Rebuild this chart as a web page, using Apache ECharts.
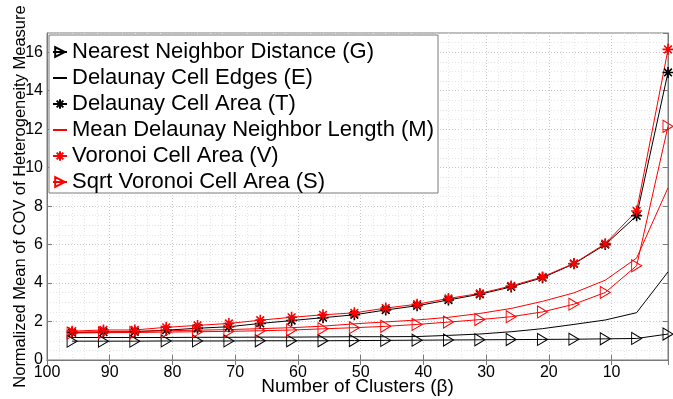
<!DOCTYPE html>
<html>
<head>
<meta charset="utf-8">
<script src="https://cdn.jsdelivr.net/npm/echarts@6/dist/echarts.min.js"></script>
<style>
  html, body { margin: 0; padding: 0; background: #fff; }
  #chart { width: 673px; height: 399px; }
</style>
</head>
<body>
<div id="chart"></div>
<script>
// number of clusters (x), plotted right to left
let clusters = [96, 91, 86, 81, 76, 71, 66, 61, 56, 51, 46, 41, 36, 31, 26, 21, 16, 11, 6, 1]

let nearestG = [0.98, 0.98, 0.98, 0.99, 0.99, 0.99, 1.0, 1.0, 1.0, 1.01, 1.02, 1.03, 1.04, 1.05, 1.06, 1.07, 1.08, 1.1, 1.12, 1.35]
let edgesE = [1.17, 1.17, 1.17, 1.17, 1.18, 1.18, 1.19, 1.19, 1.2, 1.21, 1.21, 1.22, 1.28, 1.35, 1.47, 1.63, 1.85, 2.08, 2.46, 4.58]
let delAreaT = [1.42, 1.45, 1.47, 1.55, 1.65, 1.73, 1.9, 2.05, 2.2, 2.35, 2.6, 2.82, 3.12, 3.42, 3.8, 4.28, 5.0, 6.0, 7.5, 14.95]
let meanLenM = [1.45, 1.47, 1.49, 1.52, 1.55, 1.58, 1.63, 1.68, 1.76, 1.88, 1.98, 2.08, 2.22, 2.42, 2.68, 3.05, 3.49, 4.15, 5.3, 8.95]
let vorAreaV = [1.5, 1.56, 1.56, 1.7, 1.8, 1.9, 2.07, 2.22, 2.35, 2.45, 2.7, 2.9, 3.2, 3.46, 3.85, 4.32, 5.02, 6.05, 7.75, 16.15]
let sqrtVorS = [1.4, 1.42, 1.43, 1.45, 1.47, 1.49, 1.52, 1.56, 1.62, 1.68, 1.75, 1.85, 1.97, 2.1, 2.25, 2.5, 2.9, 3.51, 4.9, 12.15]

let names = [
    'Nearest Neighbor Distance (G)',
    'Delaunay Cell Edges (E)',
    'Delaunay Cell Area (T)',
    'Mean Delaunay Neighbor Length (M)',
    'Voronoi Cell Area (V)',
    'Sqrt Voronoi Cell Area (S)'
]

let font = 'Liberation Sans, Arial, Helvetica, sans-serif'
let triangle = 'path://M0,0L10,5L0,10Z'
let asterisk = 'path://M5,0L5,10M0,5L10,5M1.5,1.5L8.5,8.5M1.5,8.5L8.5,1.5'

function pairs(vals) {
    return clusters.map((c, i) => [c, vals[i]])
}

function makeSeries(name, vals, color, symbol) {
    let s = {
        name: name,
        type: 'line',
        data: pairs(vals),
        lineStyle: { color: color, width: 1 },
        itemStyle: { color: color },
        emphasis: { disabled: true },
        animation: false
    }
    if (symbol === 'tri') {
        s.symbol = triangle
        s.symbolSize = [10, 12]
        s.itemStyle = { color: 'rgba(0,0,0,0)', borderColor: color, borderWidth: 1 }
    } else if (symbol === 'ast') {
        s.symbol = asterisk
        s.symbolSize = 11
        s.itemStyle = { color: color, borderColor: color, borderWidth: 1.6 }
    } else {
        // plain line, legend shows only the line
        s.symbol = 'none'
        s.showSymbol = false
        s.legendIcon = 'path://M0,5L10,5'
        s.itemStyle = { color: 'rgba(0,0,0,0)' }
    }
    return s
}

let gridLine = { show: true, lineStyle: { color: '#c8c8c8', type: [1, 2], width: 1 } }
let minorLine = { show: true, lineStyle: { color: '#e6e6e6', type: [1, 2], width: 1 } }

let option = {
    backgroundColor: '#fff',
    grid: {
        left: 47, right: 5, top: 33, bottom: 39,
        outerBoundsMode: 'none',
        containLabel: false,
        show: true, borderColor: '#7a7a7a', borderWidth: 1
    },
    // legend frame (drawn behind the legend items, above the lines)
    graphic: [{
        type: 'rect',
        z: 3,
        shape: { x: 49, y: 35, width: 389, height: 158 },
        style: { fill: '#fff', stroke: '#7a7a7a', lineWidth: 1 }
    }],
    legend: {
        orient: 'vertical',
        left: 48,
        top: 38,
        padding: [3, 3, 1, 4],
        itemGap: 4,
        itemWidth: 14,
        itemHeight: 12,
        textStyle: { fontFamily: font, fontSize: 22, color: '#000', lineHeight: 22 },
        data: names
    },
    xAxis: [{
        type: 'value',
        inverse: true,
        min: 1,
        max: 100,
        splitNumber: 10,
        name: 'Number of Clusters (β)',
        nameLocation: 'middle',
        nameGap: 17,
        nameMoveOverlap: false,
        nameTextStyle: { fontFamily: font, fontSize: 19, color: '#000' },
        axisLine: { show: true, lineStyle: { color: '#7a7a7a' } },
        axisTick: { show: true, inside: true, length: 5, lineStyle: { color: '#7a7a7a' } },
        axisLabel: {
            showMinLabel: false, fontFamily: font, fontSize: 16, color: '#000', margin: 5,
            alignMaxLabel: 'center', alignMinLabel: 'center'
        },
        splitLine: gridLine,
        minorTick: { show: false, splitNumber: 5 },
        minorSplitLine: minorLine
    }, {
        type: 'value',
        position: 'top',
        inverse: true,
        min: 1,
        max: 100,
        splitNumber: 10,
        axisLine: { show: true, lineStyle: { color: '#7a7a7a' } },
        axisTick: { show: true, inside: true, length: 5, lineStyle: { color: '#7a7a7a' } },
        axisLabel: { show: false },
        splitLine: { show: false }
    }],
    yAxis: [{
        type: 'value',
        min: 0,
        max: 17,
        interval: 2,
        name: 'Normalized Mean of COV of Heterogeneity Measure',
        nameLocation: 'middle',
        nameGap: 18,
        nameMoveOverlap: false,
        nameTextStyle: { fontFamily: font, fontSize: 16.5, color: '#000' },
        axisLine: { show: true, lineStyle: { color: '#7a7a7a' } },
        axisTick: { show: true, inside: true, length: 5, lineStyle: { color: '#7a7a7a' } },
        axisLabel: { showMaxLabel: false, fontFamily: font, fontSize: 16, color: '#000', margin: 4 },
        splitLine: gridLine,
        minorTick: { show: false, splitNumber: 4 },
        minorSplitLine: minorLine
    }, {
        type: 'value',
        position: 'right',
        min: 0,
        max: 17,
        interval: 2,
        axisLine: { show: true, lineStyle: { color: '#7a7a7a' } },
        axisTick: { show: true, inside: true, length: 5, lineStyle: { color: '#7a7a7a' } },
        axisLabel: { show: false },
        splitLine: { show: false }
    }],
    series: [
        makeSeries(names[0], nearestG, '#000', 'tri'),
        makeSeries(names[1], edgesE, '#000', 'none'),
        makeSeries(names[2], delAreaT, '#000', 'ast'),
        makeSeries(names[3], meanLenM, '#f00', 'none'),
        makeSeries(names[4], vorAreaV, '#f00', 'ast'),
        makeSeries(names[5], sqrtVorS, '#f00', 'tri')
    ]
}

let myChart = echarts.init(document.getElementById('chart'))
myChart.setOption(option)
</script>
</body>
</html>
